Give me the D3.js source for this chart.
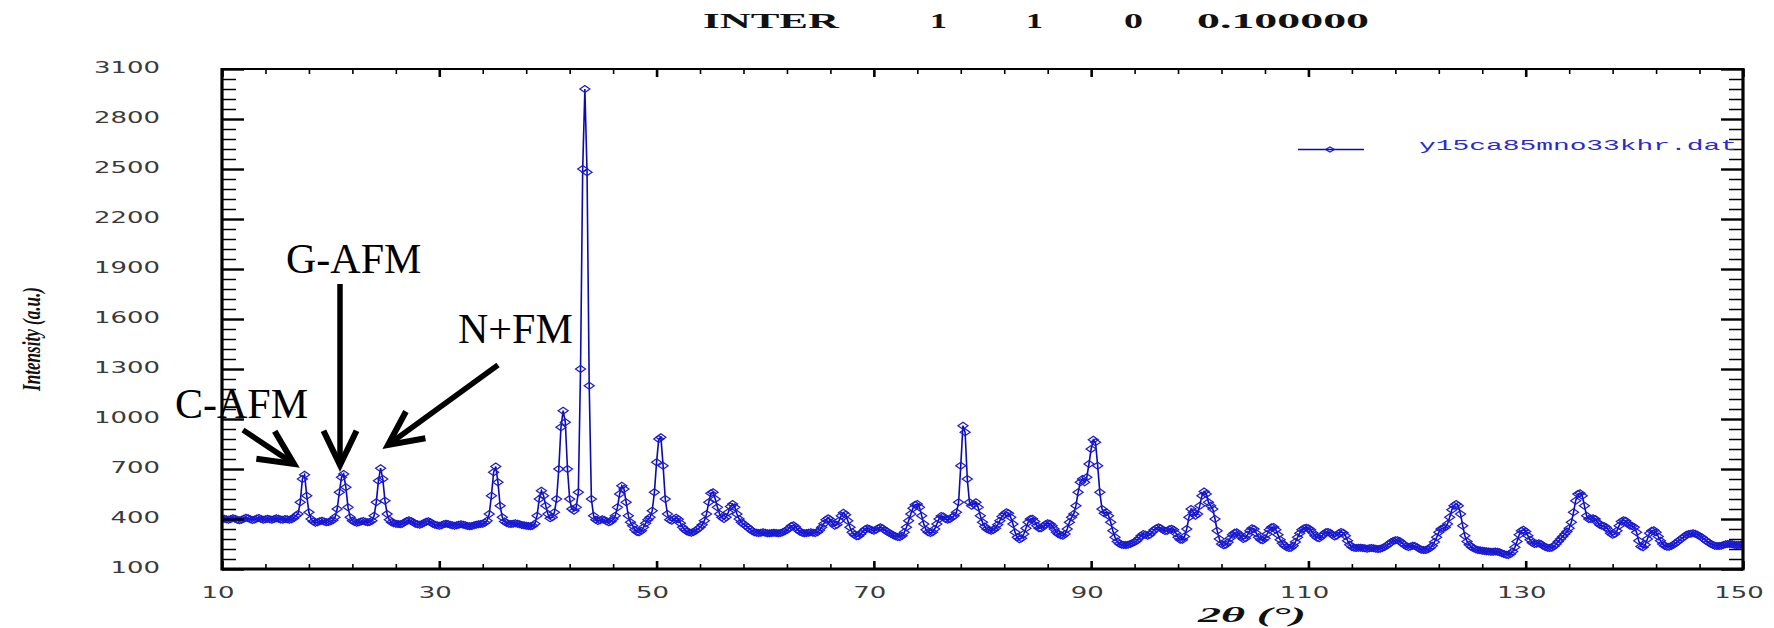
<!DOCTYPE html>
<html>
<head>
<meta charset="utf-8">
<script src="https://cdn.jsdelivr.net/npm/d3@7"></script>
<style>
  html, body { margin: 0; padding: 0; background: #fff; }
  svg { display: block; }
</style>
</head>
<body>
<svg id="chart" width="1774" height="628"></svg>
<script>
// ---------------- data ----------------
const titleWords = ["INTER", "1", "1", "0", "0.100000"];
const seriesName = "y15ca85mno33khr.dat";
const xTickLabels = [10, 30, 50, 70, 90, 110, 130, 150];
const yTickLabels = [100, 400, 700, 1000, 1300, 1600, 1900, 2200, 2500, 2800, 3100];
const annotations = ["C-AFM", "G-AFM", "N+FM"];
const startAngle = 10.0;
const angleStep = 0.2;
// intensity (a.u.), one value every 0.2 degree 2-theta, rows of 4 degrees
const intensity = [
  /* 10.0 */ 400,402,398,396,400,405,401,395,392,396,402,408,404,398,394,397,403,406,400,396,
  /* 14.0 */ 398,402,399,395,400,404,401,397,396,400,398,395,399,405,420,430,500,640,665,540,
  /* 18.0 */ 440,400,385,378,380,386,390,385,380,382,386,392,410,460,560,650,670,590,470,410,
  /* 22.0 */ 390,382,378,380,385,388,384,380,382,390,420,500,630,705,640,510,430,395,380,375,
  /* 26.0 */ 372,370,368,372,380,388,392,388,380,372,368,366,370,378,384,386,380,372,366,362,
  /* 30.0 */ 360,362,368,372,370,366,362,360,362,366,368,366,362,358,356,358,362,366,368,370,
  /* 34.0 */ 372,378,390,430,540,680,715,620,480,410,385,376,372,370,372,374,372,368,364,362,
  /* 38.0 */ 360,358,356,360,372,420,520,570,540,480,430,405,410,440,520,700,950,1050,980,700,
  /* 42.0 */ 520,460,450,470,560,1300,2500,2980,2480,1200,520,420,395,388,392,398,394,386,380,385,
  /* 46.0 */ 400,420,470,550,600,580,500,420,380,360,335,322,320,330,350,375,395,410,450,560,
  /* 50.0 */ 740,880,890,720,520,430,395,390,400,408,398,375,350,335,325,320,318,322,330,340,
  /* 54.0 */ 350,365,390,430,500,555,560,520,470,430,410,400,410,440,475,490,470,430,400,380,
  /* 58.0 */ 370,360,350,338,328,320,318,316,318,320,318,315,314,316,318,316,314,316,320,326,
  /* 62.0 */ 334,345,358,362,352,336,324,318,315,316,318,320,318,316,320,332,350,372,395,405,
  /* 66.0 */ 395,375,360,365,390,420,438,425,390,350,320,305,296,298,310,325,338,345,340,334,
  /* 70.0 */ 330,336,345,350,344,334,325,318,310,302,296,292,292,300,320,350,390,430,465,485,
  /* 74.0 */ 490,470,420,370,335,320,316,320,340,370,400,418,415,400,395,400,410,420,440,500,
  /* 78.0 */ 720,960,920,640,500,480,490,500,470,420,380,355,340,334,330,334,345,365,390,415,
  /* 82.0 */ 430,440,435,410,370,320,290,278,285,310,345,380,400,402,385,360,345,345,355,368,
  /* 86.0 */ 375,372,360,340,320,308,302,300,310,340,380,410,430,480,560,620,640,620,650,730,
  /* 90.0 */ 820,875,860,720,560,460,435,440,420,380,330,290,265,252,246,244,244,246,250,256,
  /* 94.0 */ 262,270,284,300,310,305,300,305,320,335,345,350,345,335,328,330,338,342,335,315,
  /* 98.0 */ 290,275,275,295,340,410,460,440,420,430,480,540,565,550,500,480,460,400,330,280,
  /* 102.0 */ 250,242,245,260,285,305,318,320,310,292,280,285,305,330,345,340,315,290,275,272,
  /* 106.0 */ 285,310,335,350,352,335,305,275,255,240,230,226,228,240,262,290,315,335,345,348,
  /* 110.0 */ 345,335,318,300,288,285,295,310,320,322,318,305,295,300,315,322,318,300,270,245,
  /* 114.0 */ 232,228,226,227,228,226,224,222,224,226,225,222,220,222,226,232,240,250,260,268,
  /* 118.0 */ 272,272,268,258,245,236,232,235,240,238,230,222,216,214,214,218,226,240,262,290,
  /* 122.0 */ 320,340,345,350,370,410,455,480,490,480,430,360,300,265,245,232,224,218,214,212,
  /* 126.0 */ 210,208,206,205,204,204,205,204,200,195,190,186,184,190,205,230,265,305,330,335,
  /* 130.0 */ 325,300,275,258,250,252,255,250,240,232,228,226,228,236,250,265,280,295,310,325,
  /* 134.0 */ 345,380,440,510,550,555,540,480,420,400,400,405,400,380,365,360,358,350,335,315,
  /* 138.0 */ 305,310,330,360,385,392,390,375,360,358,350,320,270,235,230,245,280,315,330,332,
  /* 142.0 */ 320,295,270,250,238,234,234,238,245,255,265,275,285,295,305,310,312,314,312,306,
  /* 146.0 */ 298,290,280,270,260,252,245,240,238,238,240,244,248,250,250,248,246,244,244,245,
  /* 150.0 */ 246
];
const twoTheta = intensity.map((_, i) => +(startAngle + i * angleStep).toFixed(1));
const points = twoTheta.map((t, i) => ({ t, v: intensity[i] }));

// ---------------- layout ----------------
const svg = d3.select("#chart");
const plot = { left: 222, right: 1743, top: 69, bottom: 569 };
const x = d3.scaleLinear().domain([10, 150]).range([plot.left, plot.right]);
const y = d3.scaleLinear().domain([100, 3100]).range([plot.bottom, plot.top]);
const blue = "#1a1ad4";
const lineBlue = "#0a0ab0";
const labelFont = "'DejaVu Sans', sans-serif";

// data line + markers (clipped to the frame)
svg.append("clipPath").attr("id", "clip").append("rect")
  .attr("x", plot.left).attr("y", plot.top)
  .attr("width", plot.right - plot.left).attr("height", plot.bottom - plot.top);

const dataG = svg.append("g").attr("clip-path", "url(#clip)");
dataG.append("path").datum(points)
  .attr("fill", "none").attr("stroke", lineBlue).attr("stroke-width", 1.6)
  .attr("d", d3.line().x(d => x(d.t)).y(d => y(d.v)));

const diamond = (cx, cy, w, h) => `M${cx - w / 2},${cy}L${cx},${cy - h / 2}L${cx + w / 2},${cy}L${cx},${cy + h / 2}Z`;
dataG.selectAll("path.mk").data(points).join("path").attr("class", "mk")
  .attr("d", d => diamond(x(d.t), y(d.v), 10, 7))
  .attr("fill", "none").attr("stroke", blue).attr("stroke-width", 1.25);

// ---------------- axes ----------------
const axG = svg.append("g");
const xMinor = d3.range(10, 150.01, 4);
const yMinor = d3.range(100, 3100.01, 60);
function isMajorX(v) { return xTickLabels.includes(Math.round(v)); }
function isMajorY(v) { return yTickLabels.includes(Math.round(v)); }

// bottom & top ticks
const bottomAxis = d3.axisTop(x).tickValues(xMinor).tickFormat("").tickSizeOuter(0);
const gb = axG.append("g").attr("transform", `translate(0,${plot.bottom})`).call(bottomAxis);
const topAxis = d3.axisBottom(x).tickValues(xMinor).tickFormat("").tickSizeOuter(0);
const gt = axG.append("g").attr("transform", `translate(0,${plot.top})`).call(topAxis);
[gb, gt].forEach((g, k) => {
  g.select(".domain").remove();
  g.selectAll(".tick line")
    .attr("stroke", "#000")
    .attr("stroke-width", d => isMajorX(d) ? 2.6 : 1.6)
    .attr("y2", d => (k === 0 ? -1 : 1) * (isMajorX(d) ? 8 : 5));
});

// left & right ticks
const leftAxis = d3.axisRight(y).tickValues(yMinor).tickFormat("").tickSizeOuter(0);
const gl = axG.append("g").attr("transform", `translate(${plot.left},0)`).call(leftAxis);
const rightAxis = d3.axisLeft(y).tickValues(yMinor).tickFormat("").tickSizeOuter(0);
const gr = axG.append("g").attr("transform", `translate(${plot.right},0)`).call(rightAxis);
[gl, gr].forEach((g, k) => {
  g.select(".domain").remove();
  g.selectAll(".tick line")
    .attr("stroke", "#000")
    .attr("stroke-width", d => isMajorY(d) ? 2.4 : 1.5)
    .attr("x2", d => (k === 0 ? 1 : -1) * (isMajorY(d) ? 22 : 14));
});

// frame
axG.append("line").attr("x1", plot.left).attr("x2", plot.left).attr("y1", plot.top - 1).attr("y2", plot.bottom + 1.5).attr("stroke", "#000").attr("stroke-width", 3.2);
axG.append("line").attr("x1", plot.right).attr("x2", plot.right).attr("y1", plot.top - 1).attr("y2", plot.bottom + 1.5).attr("stroke", "#000").attr("stroke-width", 3.2);
axG.append("line").attr("x1", plot.left).attr("x2", plot.right).attr("y1", plot.top).attr("y2", plot.top).attr("stroke", "#000").attr("stroke-width", 2.2);
axG.append("line").attr("x1", plot.left).attr("x2", plot.right).attr("y1", plot.bottom).attr("y2", plot.bottom).attr("stroke", "#000").attr("stroke-width", 2.8);

// tick labels
svg.append("g").selectAll("text").data(xTickLabels).join("text")
  .attr("x", d => x(d) - 4).attr("y", 598)
  .attr("text-anchor", "middle")
  .attr("font-family", labelFont).attr("font-size", 15).attr("fill", "#3a3a3a")
  .attr("textLength", d => String(d).length * 16.5).attr("lengthAdjust", "spacingAndGlyphs")
  .text(d => d);

svg.append("g").selectAll("text").data(yTickLabels).join("text")
  .attr("x", 160).attr("y", d => y(d) + 4)
  .attr("text-anchor", "end")
  .attr("font-family", labelFont).attr("font-size", 15).attr("fill", "#3a3a3a")
  .attr("textLength", d => String(d).length * 16.5).attr("lengthAdjust", "spacingAndGlyphs")
  .text(d => d);

// axis titles
svg.append("text")
  .attr("transform", "translate(40,339) rotate(-90)")
  .attr("text-anchor", "middle")
  .attr("font-family", "'Liberation Serif', serif").attr("font-weight", "bold").attr("font-style", "italic")
  .attr("font-size", 25).attr("fill", "#111")
  .attr("textLength", 104).attr("lengthAdjust", "spacingAndGlyphs")
  .text("Intensity (a.u.)");

svg.append("text")
  .attr("x", 1252).attr("y", 622)
  .attr("text-anchor", "middle")
  .attr("font-family", "'Liberation Serif', serif").attr("font-weight", "bold").attr("font-style", "italic")
  .attr("font-size", 22).attr("fill", "#111")
  .attr("textLength", 108).attr("lengthAdjust", "spacingAndGlyphs")
  .text("2θ (°)");

// title
const titleX = [703, 930, 1026, 1124, 1197];
const titleW = [136, 17, 17, 19, 172];
svg.append("g").selectAll("text").data(titleWords).join("text")
  .attr("x", (d, i) => titleX[i]).attr("y", 28)
  .attr("font-family", "'Liberation Serif', serif").attr("font-weight", "bold")
  .attr("font-size", 21).attr("fill", "#111")
  .attr("textLength", (d, i) => titleW[i]).attr("lengthAdjust", "spacingAndGlyphs")
  .text(d => d);

// legend
const lg = svg.append("g");
lg.append("line").attr("x1", 1298).attr("x2", 1364).attr("y1", 149.5).attr("y2", 149.5).attr("stroke", lineBlue).attr("stroke-width", 1.3);
lg.append("path").attr("d", diamond(1330, 149.5, 9, 5)).attr("fill", "none").attr("stroke", blue).attr("stroke-width", 1.1);
lg.append("text").attr("x", 1419).attr("y", 150)
  .attr("font-family", "'Liberation Mono', monospace").attr("font-size", 15).attr("fill", "#2a2ad0")
  .attr("textLength", 318).attr("lengthAdjust", "spacingAndGlyphs")
  .text(seriesName);

// annotations with arrows
const annG = svg.append("g");
const annPos = [[175, 418], [286, 273], [458, 343]];
annG.selectAll("text").data(annotations).join("text")
  .attr("x", (d, i) => annPos[i][0]).attr("y", (d, i) => annPos[i][1])
  .attr("font-family", "'Liberation Serif', serif").attr("font-size", 42).attr("fill", "#000")
  .text(d => d);

const arrows = [
  { from: [243, 430], to: [294, 464] },
  { from: [340, 284], to: [340, 465] },
  { from: [498, 365], to: [388, 445] }
];
arrows.forEach(a => {
  const [x1, y1] = a.from, [x2, y2] = a.to;
  const ang = Math.atan2(y2 - y1, x2 - x1);
  const L = 38, spread = 0.45;
  annG.append("line").attr("x1", x1).attr("y1", y1).attr("x2", x2 - 2 * Math.cos(ang)).attr("y2", y2 - 2 * Math.sin(ang))
    .attr("stroke", "#000").attr("stroke-width", 5.5);
  const p1 = [x2 - L * Math.cos(ang - spread), y2 - L * Math.sin(ang - spread)];
  const p2 = [x2 - L * Math.cos(ang + spread), y2 - L * Math.sin(ang + spread)];
  annG.append("path").attr("d", `M${p1[0]},${p1[1]}L${x2},${y2}L${p2[0]},${p2[1]}`)
    .attr("fill", "none").attr("stroke", "#000").attr("stroke-width", 6).attr("stroke-linejoin", "miter");
});
</script>
</body>
</html>
